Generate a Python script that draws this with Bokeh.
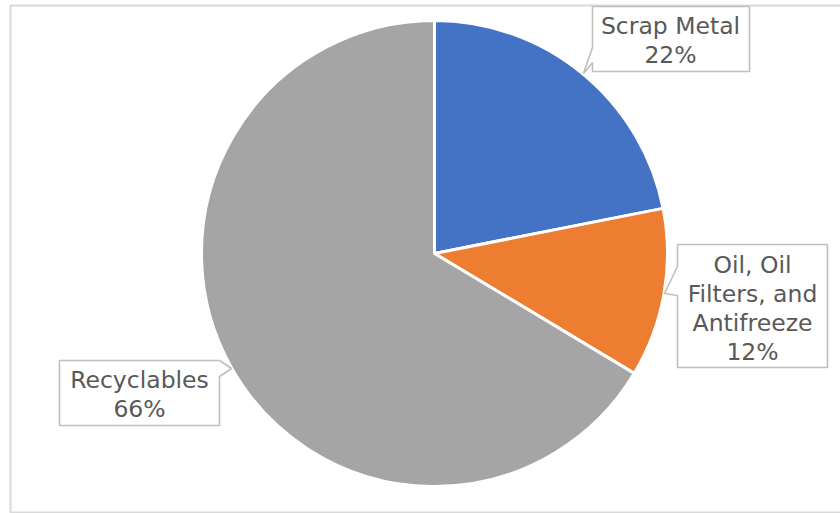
import math
from bokeh.plotting import figure
from bokeh.models import Range1d, ColumnDataSource
from bokeh.core.properties import value
from bokeh.embed import file_html
from bokeh.resources import INLINE

# ---- data ----
categories = ["Scrap Metal", "Oil, Oil\nFilters, and\nAntifreeze", "Recyclables"]
shares = [21.9, 11.7, 66.4]          # slice sizes
labels_pct = ["22%", "12%", "66%"]   # labels as printed
colors = ["#4472C4", "#ED7D31", "#A5A5A5"]

# ---- layout (pixel-like data units) ----
W, H = 840, 513
CX, CY, R = 434, 513 - 253, 233
FONT = "DejaVu Sans"
FS = "23.5px"
TXT = "#595959"

p = figure(width=W, height=H, output_backend="svg", toolbar_location=None,
           x_range=Range1d(0, W), y_range=Range1d(0, H), min_border=0)
p.axis.visible = False
p.grid.visible = False
p.outline_line_color = None
p.background_fill_color = "white"

# wedges (start at 12 o'clock, clockwise)
total = sum(shares)
starts, ends = [], []
acc = 0.0
for v in shares:
    a0 = math.pi / 2 - acc / total * 2 * math.pi
    acc += v
    a1 = math.pi / 2 - acc / total * 2 * math.pi
    starts.append(a0)
    ends.append(a1)
src = ColumnDataSource(dict(start=starts, end=ends, color=colors))
p.wedge(x=CX, y=CY, radius=R, start_angle="start", end_angle="end",
        direction="clock", fill_color="color", line_color="white",
        line_width=3, source=src)

def cv(pts):
    return [x for x, y in pts], [513 - y for x, y in pts]

# outer chart border (left, top, bottom)
bx, by = cv([(W + 5, 5), (10, 5), (10, 512), (W + 5, 512)])
p.line(x=bx, y=by, line_color="#d9d9d9", line_width=2)

# callout boxes (image coords)
boxes = [
    [(592, 6), (749, 6), (749, 71), (592, 71), (592, 62), (583, 73), (592, 47)],
    [(677, 244), (827, 244), (827, 367), (677, 367), (677, 295), (664, 293), (677, 266)],
    [(59, 360), (219, 360), (231, 368), (219, 376), (219, 425), (59, 425)],
]
for b in boxes:
    xs, ys = cv(b)
    p.patch(xs, ys, fill_color="white", line_color="#bfbfbf", line_width=1.6)

# labels
label_centers = [(670, 25), (752, 264), (139, 379)]
line_h = 29
for cat, pct, (lx, ly) in zip(categories, labels_pct, label_centers):
    lines = cat.split("\n") + [pct]
    xs = [lx] * len(lines)
    ys = [513 - (ly + i * line_h) for i in range(len(lines))]
    p.text(x=xs, y=ys, text=lines, text_align="center", text_baseline="middle",
           text_font=value(FONT), text_font_size=FS, text_color=TXT)

open("out.html", "w").write(file_html(p, INLINE))
